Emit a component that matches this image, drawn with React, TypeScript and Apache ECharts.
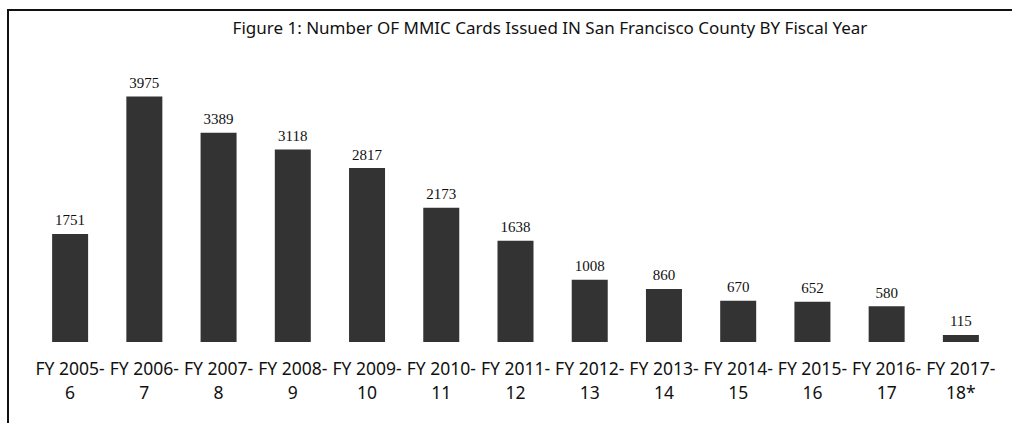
import React, { useEffect, useRef } from "react";
import * as echarts from "echarts";

const titleText = "Figure 1: Number OF MMIC Cards Issued IN San Francisco County BY Fiscal Year";
const categories = [
  "FY 2005-\n6",
  "FY 2006-\n7",
  "FY 2007-\n8",
  "FY 2008-\n9",
  "FY 2009-\n10",
  "FY 2010-\n11",
  "FY 2011-\n12",
  "FY 2012-\n13",
  "FY 2013-\n14",
  "FY 2014-\n15",
  "FY 2015-\n16",
  "FY 2016-\n17",
  "FY 2017-\n18*",
];
const cardsIssued = [1751, 3975, 3389, 3118, 2817, 2173, 1638, 1008, 860, 670, 652, 580, 115];

export default function App() {
  const ref = useRef<HTMLDivElement>(null);
  useEffect(() => {
    if (!ref.current) return;
    const chart = echarts.init(ref.current, null, { renderer: "svg" });
    chart.setOption({
      animation: false,
      backgroundColor: "#ffffff",
      title: {
        text: titleText,
        left: 545,
        top: 14,
        textAlign: "center",
        textStyle: {
          fontFamily: "Noto Sans",
          fontSize: 17,
          fontWeight: "normal",
          color: "#111111",
        },
      },
      graphic: [
        {
          type: "rect",
          shape: { x: 8, y: 10, width: 1100, height: 500 },
          style: { fill: "none", stroke: "#111111", lineWidth: 2 },
          silent: true,
        },
      ],
      grid: { left: 33, right: 14, top: 95, bottom: 81, containLabel: false },
      xAxis: {
        type: "category",
        data: categories,
        axisLine: { show: false },
        axisTick: { show: false },
        axisLabel: {
          interval: 0,
          margin: 14,
          fontFamily: "Noto Sans",
          fontSize: 17.5,
          lineHeight: 24,
          color: "#111111",
        },
      },
      yAxis: {
        type: "value",
        min: 0,
        max: 4000,
        show: false,
        splitLine: { show: false },
      },
      series: [
        {
          type: "bar",
          data: cardsIssued,
          barWidth: 36,
          itemStyle: { color: "#333333" },
          label: {
            show: true,
            position: "top",
            distance: 6,
            fontFamily: "Liberation Serif",
            fontSize: 15,
            color: "#111111",
          },
        },
      ],
    });
    return () => chart.dispose();
  }, []);
  return (
    <div
      ref={ref}
      style={{ position: "absolute", left: 0, top: 0, width: 1012, height: 423 }}
    />
  );
}
